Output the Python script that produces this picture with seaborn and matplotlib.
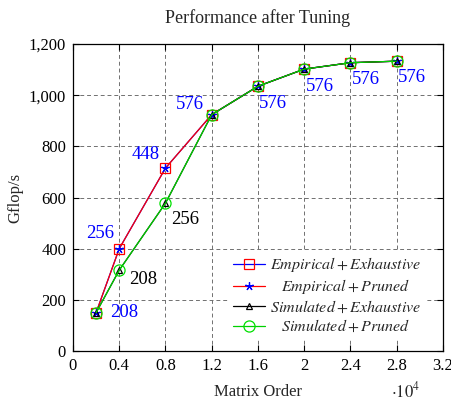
import numpy as np
import pandas as pd
import matplotlib
matplotlib.use('Agg')
import matplotlib.pyplot as plt
import seaborn as sns
from matplotlib.ticker import FuncFormatter, MultipleLocator

sns.set_style('ticks')
plt.rcParams['font.family'] = ['Liberation Serif', 'DejaVu Serif']
plt.rcParams['mathtext.fontset'] = 'stix'

# data
matrix_order = [2000, 4000, 8000, 12000, 16000, 20000, 24000, 28000]
empirical = [150, 400, 715, 924, 1035, 1102, 1127, 1133]
simulated = [150, 316, 578, 924, 1035, 1102, 1127, 1133]
emp_tiles = ['208', '256', '448', '576', '576', '576', '576', '576']
sim_tiles = [None, '208', '256', None, None, None, None, None]
series_names = ['$Empirical + Exhaustive$', '$Empirical + Pruned$',
                '$Simulated + Exhaustive$', '$Simulated + Pruned$']

df = pd.DataFrame({'order': matrix_order, 'emp': empirical, 'sim': simulated})

fig = plt.figure(figsize=(4.52, 4.04), dpi=100)
ax = fig.add_axes([0.1615, 0.1312, 0.8185, 0.7598])

# (y column, line colour, marker, marker colour, marker size, fill)
styles = [
    ('emp', 'blue', 's', 'red', 7, 'none'),
    ('emp', 'red', (5, 2), 'blue', 6, 'blue'),
    ('sim', 'black', '^', 'black', 5, 'none'),
    ('sim', '#00d000', 'o', '#00e000', 8, 'none'),
]
for name, (col, lc, mk, mc, ms, mf) in zip(series_names, styles):
    sns.lineplot(data=df, x='order', y=col, color=lc, lw=0.9, marker=mk,
                 markersize=ms, markeredgecolor=mc, markerfacecolor=mf,
                 markeredgewidth=0.9, label=name, ax=ax)

# tile-size annotations
emp_off = [(10, 0, 'left'), (-4, 11, 'right'), (-4, 9.5, 'right'), (-6, 7, 'right'),
           (1, -12.5, 'left'), (1, -12.5, 'left'), (1, -12, 'left'), (1, -11.5, 'left')]
for x, y, t, (dx, dy, ha) in zip(matrix_order, empirical, emp_tiles, emp_off):
    ax.annotate(t, (x, y), xytext=(dx, dy), textcoords='offset points',
                ha=ha, va='center', color='blue', fontsize=13.5)
sim_off = [None, (7, -7), (4, -11.5)] + [None] * 5
for x, y, t, off in zip(matrix_order, simulated, sim_tiles, sim_off):
    if t is None:
        continue
    ax.annotate(t, (x, y), xytext=off, textcoords='offset points',
                ha='left', va='center', color='black', fontsize=13.5)

ax.set_xlim(0, 32000)
ax.set_ylim(0, 1200)
ax.xaxis.set_major_locator(MultipleLocator(4000))
ax.yaxis.set_major_locator(MultipleLocator(200))
ax.xaxis.set_major_formatter(FuncFormatter(lambda v, p: f'{v / 1e4:g}'))
ax.yaxis.set_major_formatter(FuncFormatter(lambda v, p: f'{v:,.0f}'))
ax.tick_params(direction='in', top=True, right=True, length=4, width=0.8,
               labelsize=12, colors='black', pad=5)
ax.grid(True, color='#707070', linestyle=(0, (4, 3)), linewidth=0.7)
for s in ax.spines.values():
    s.set_color('black')
    s.set_linewidth(0.9)

ax.set_title('Performance after Tuning', fontsize=13, pad=15)
ax.set_xlabel('Matrix Order', fontsize=12, labelpad=7)
ax.set_ylabel('Gflop/s', fontsize=12, labelpad=4)
ax.text(0.9, -0.132, r'$\cdot 10^4$', transform=ax.transAxes,
        fontsize=12, ha='center', va='center')

leg = ax.legend(loc='lower right', bbox_to_anchor=(0.975, 0.01), fontsize=11.5,
                frameon=True, framealpha=1, edgecolor='none', fancybox=False,
                handlelength=2.0, handletextpad=0.3, labelspacing=0.2,
                borderpad=0.3)

# centre the legend texts like pgfplots does
fig.canvas.draw()
r = fig.canvas.get_renderer()
texts = leg.get_texts()
widths = [t.get_window_extent(r).width for t in texts]
wmax = max(widths)
for t, w in zip(texts, widths):
    t.set_x((wmax - w) / 2)

fig.savefig('out.png', dpi=100)
